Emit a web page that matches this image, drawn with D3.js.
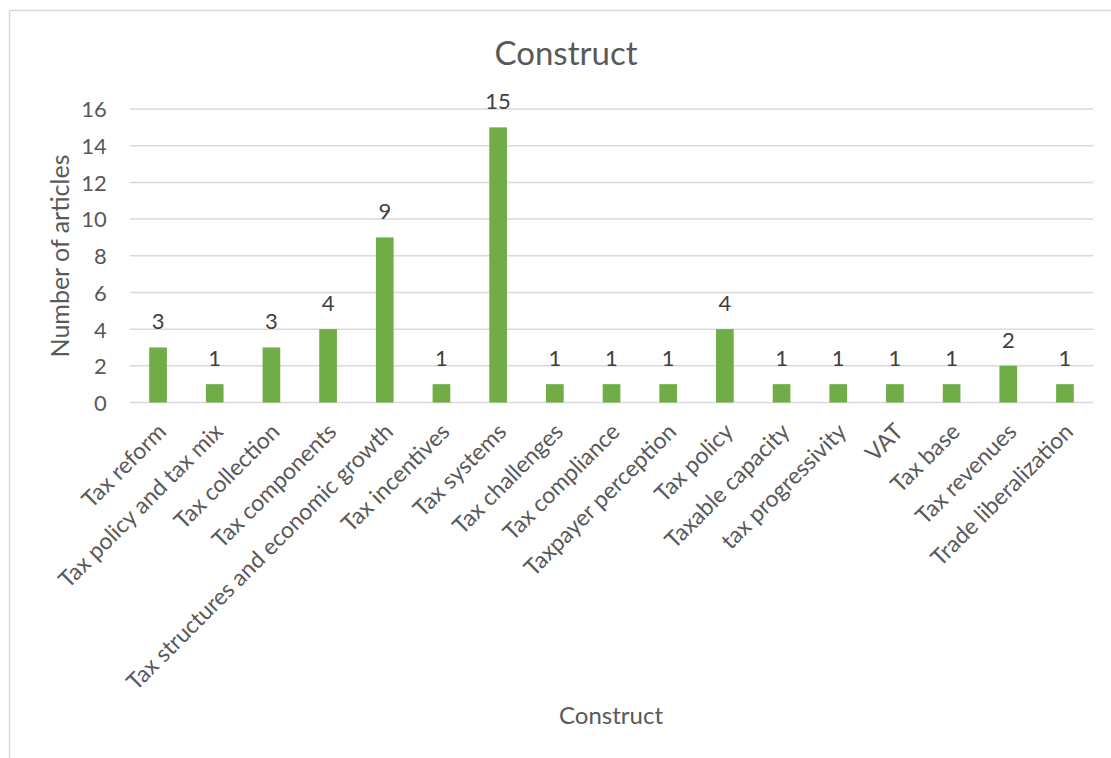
<!DOCTYPE html>
<html>
<head>
<meta charset="utf-8">
<script src="https://cdn.jsdelivr.net/npm/d3@7"></script>
<style>
  html, body { margin: 0; padding: 0; background: #fff; }
  svg { display: block; font-family: Lato, "Open Sans", sans-serif; }
</style>
</head>
<body>
<svg id="chart" width="1111" height="758"></svg>
<script>
// Number of articles per construct
const categories = [
  "Tax reform", "Tax policy and tax mix", "Tax collection", "Tax components",
  "Tax structures and economic growth", "Tax incentives", "Tax systems",
  "Tax challenges", "Tax compliance", "Taxpayer perception", "Tax policy",
  "Taxable capacity", "tax progressivity", "VAT", "Tax base",
  "Tax revenues", "Trade liberalization"
];
const articleCounts = [3, 1, 3, 4, 9, 1, 15, 1, 1, 1, 4, 1, 1, 1, 1, 2, 1];
const yTicks = [0, 2, 4, 6, 8, 10, 12, 14, 16];

const chartTitle = "Construct";
const xTitle = "Construct";
const yTitle = "Number of articles";

const textColor = "#595959";
const labelColor = "#404040";
const gridColor = "#D9D9D9";
const barColor = "#70AD47";

const svg = d3.select("#chart");

// chart frame
svg.append("rect")
  .attr("x", 9.5).attr("y", 10.5)
  .attr("width", 1120).attr("height", 760)
  .attr("fill", "#fff")
  .attr("stroke", gridColor).attr("stroke-width", 1.5);

const plot = { left: 129.7, right: 1093.3, top: 109, bottom: 402.5 };

const x = d3.scaleBand()
  .domain(categories)
  .range([plot.left, plot.right])
  .paddingInner(0).paddingOuter(0);

const y = d3.scaleLinear()
  .domain([0, 16])
  .range([plot.bottom, plot.top]);

// horizontal gridlines
svg.append("g")
  .selectAll("line")
  .data(yTicks)
  .join("line")
  .attr("x1", plot.left).attr("x2", plot.right)
  .attr("y1", d => y(d)).attr("y2", d => y(d))
  .attr("stroke", gridColor).attr("stroke-width", 1.5);

// y axis tick labels
const yAxis = d3.axisLeft(y).tickValues(yTicks).tickSize(0).tickPadding(0);
const gy = svg.append("g")
  .attr("transform", `translate(${plot.left - 23},0)`)
  .call(yAxis);
gy.select(".domain").remove();
gy.selectAll("text")
  .attr("fill", textColor)
  .style("font-size", "22px")
  .style("font-family", "Lato, sans-serif")
  .attr("dy", "0.36em");

// bars
const barW = x.bandwidth() * 0.312;
svg.append("g")
  .selectAll("rect")
  .data(categories)
  .join("rect")
  .attr("x", d => x(d) + (x.bandwidth() - barW) / 2)
  .attr("y", (d, i) => y(articleCounts[i]))
  .attr("width", barW)
  .attr("height", (d, i) => y(0) - y(articleCounts[i]))
  .attr("fill", barColor);

// value labels
svg.append("g")
  .selectAll("text")
  .data(categories)
  .join("text")
  .attr("x", d => x(d) + x.bandwidth() / 2)
  .attr("y", (d, i) => y(articleCounts[i]) - 18)
  .attr("text-anchor", "middle")
  .attr("fill", labelColor)
  .style("font-size", "22px")
  .text((d, i) => articleCounts[i]);

// category labels, rotated
const xAxis = d3.axisBottom(x).tickSize(0).tickPadding(0);
const gx = svg.append("g")
  .attr("transform", `translate(0,${plot.bottom})`)
  .call(xAxis);
gx.select(".domain").remove();
gx.selectAll("text")
  .attr("fill", textColor)
  .style("font-size", "23px")
  .style("font-family", "Lato, sans-serif")
  .attr("text-anchor", "end")
  .attr("y", 0)
  .attr("dy", "0.35em")
  .attr("transform", "translate(4,25) rotate(-45)");

// titles
svg.append("text")
  .attr("x", 566).attr("y", 65)
  .attr("text-anchor", "middle")
  .attr("fill", textColor)
  .style("font-size", "33px")
  .text(chartTitle);

svg.append("text")
  .attr("x", 611).attr("y", 724)
  .attr("text-anchor", "middle")
  .attr("fill", textColor)
  .style("font-size", "24px")
  .text(xTitle);

svg.append("text")
  .attr("transform", "translate(69,256) rotate(-90)")
  .attr("text-anchor", "middle")
  .attr("fill", textColor)
  .style("font-size", "25px")
  .text(yTitle);
</script>
</body>
</html>
